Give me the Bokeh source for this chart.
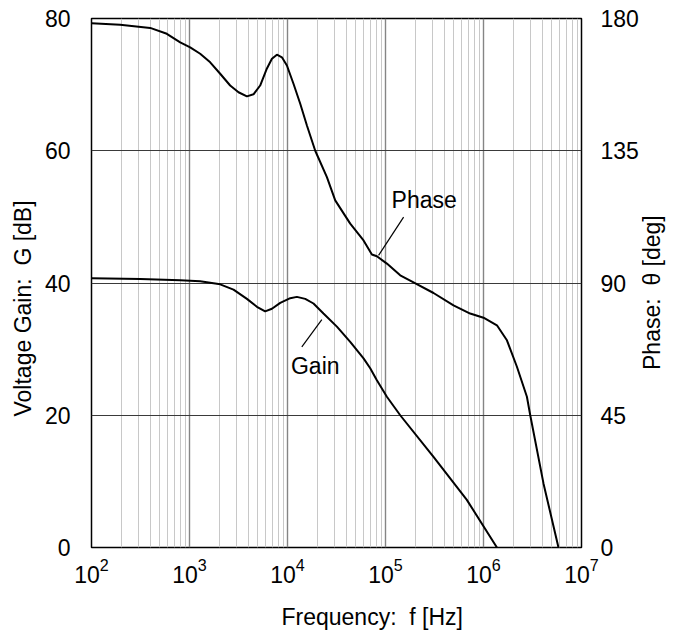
import math
from bokeh.plotting import figure
from bokeh.layouts import row
from bokeh.models import Range1d, LinearAxis, FixedTicker, Title
from bokeh.embed import file_html
from bokeh.resources import INLINE
from bokeh.core.properties import value

# ---- data ----
gain_freq = [100, 316, 804, 1285, 2056, 2812, 3855, 4875, 5916, 6934, 8433,
             10670, 12470, 15170, 18410, 23280, 31920, 43650, 59700, 69820,
             81660, 103300, 141300, 309000, 676100, 1371000]
gain_db = [40.7, 40.6, 40.41, 40.26, 39.8, 39.0, 37.6, 36.4, 35.7, 36.1, 37.0,
           37.7, 37.9, 37.6, 36.9, 35.4, 33.4, 31.1, 28.6, 27.1,
           25.3, 22.8, 20.0, 13.7, 7.2, 0.0]

phase_freq = [100, 196, 397, 587, 804, 1016, 1285, 1626, 2056, 2600, 3162,
              3855, 4498, 5260, 6166, 6934, 7798, 8770, 9863, 11510, 13490,
              15780, 19190, 25240, 30690, 43650, 59700, 72610, 81660, 103300,
              141300, 193200, 309000, 494300, 731100, 1000000, 1371000,
              1734000, 2193000, 2773000, 2999000, 4093000, 5821000]
phase_deg = [178.4, 177.9, 176.8, 174.8, 171.9, 170.2, 168.0, 165.1, 161.2,
             157.2, 154.9, 153.5, 154.2, 157.2, 163.0, 166.3, 167.7, 166.8,
             164.0, 157.8, 151.0, 143.6, 135.0, 126.0, 118.1, 110.2, 104.5,
             99.7, 99.1, 96.6, 92.6, 90.2, 86.6, 82.4, 79.6, 78.2, 75.6, 70.5,
             61.5, 51.3, 45.0, 21.8, 0.0]

x_major = [1e2, 1e3, 1e4, 1e5, 1e6, 1e7]
gain_ticks = [0, 20, 40, 60, 80]
phase_ticks = [0, 45, 90, 135, 180]

FONT = "Liberation Sans"
FS = "23px"

fig = figure(frame_width=490, frame_height=529, x_axis_type="log",
             x_range=Range1d(1e2, 1e7), y_range=Range1d(0, 80),
             output_backend="svg", toolbar_location=None,
             min_border_left=91, min_border_right=60,
             min_border_top=18, min_border_bottom=83)
fig.extra_y_ranges = {"phase": Range1d(0, 180)}

minor = [m * 10 ** e for e in range(2, 7) for m in range(2, 10)]
fig.xaxis.ticker = FixedTicker(ticks=x_major, minor_ticks=minor)
fig.xgrid.ticker = FixedTicker(ticks=x_major, minor_ticks=minor)
fig.yaxis.ticker = FixedTicker(ticks=gain_ticks)
fig.ygrid.ticker = FixedTicker(ticks=gain_ticks)

fig.xgrid.grid_line_color = "#858585"
fig.xgrid.grid_line_width = 1.4
fig.xgrid.minor_grid_line_color = "#c8c8c8"
fig.xgrid.minor_grid_line_width = 1
fig.ygrid.grid_line_color = "#3a3a3a"
fig.ygrid.grid_line_width = 1.2

fig.outline_line_color = "black"
fig.outline_line_width = 1.5
fig.outline_line_alpha = 1
fig.background_fill_color = "white"
fig.border_fill_color = "white"

right = LinearAxis(y_range_name="phase", ticker=FixedTicker(ticks=phase_ticks))
fig.add_layout(right, "right")

for ax in [fig.xaxis[0], fig.yaxis[0], right]:
    ax.axis_line_color = None
    ax.major_tick_line_color = None
    ax.minor_tick_line_color = None
    ax.major_label_text_font = FONT
    ax.major_label_text_font_size = FS
    ax.major_label_text_color = "black"
    ax.major_tick_out = 0
    ax.major_tick_in = 0
    ax.minor_tick_out = 0
    ax.minor_tick_in = 0

fig.xaxis.major_label_standoff = 10
fig.yaxis[0].major_label_standoff = 21
right.major_label_standoff = 19

fig.line(gain_freq, gain_db, line_color="black", line_width=2)
fig.line(phase_freq, phase_deg, line_color="black", line_width=2,
         y_range_name="phase")

# annotations on the curves
fig.text(x=[2.48e5], y=[52.5], text=["Phase"], text_font=value(FONT),
         text_font_size=FS, text_align="center", text_baseline="middle",
         text_color="black")
fig.segment(x0=[1.53e5], y0=[49.97], x1=[8.5e4], y1=[44.18],
            line_color="black", line_width=1.2)
fig.text(x=[1.92e4], y=[27.4], text=["Gain"], text_font=value(FONT),
         text_font_size=FS, text_align="center", text_baseline="middle",
         text_color="black")
fig.segment(x0=[2.24e4], y0=[34.47], x1=[1.40e4], y1=[30.33],
            line_color="black", line_width=1.2)

# axis titles
def side_title(text, offset, standoff):
    return Title(text=text, align="left", offset=offset, standoff=standoff,
                 text_font=FONT, text_font_size=FS, text_font_style="normal",
                 text_color="black")

fig.add_layout(side_title("Frequency:\u00a0 f [Hz]", 190, 32), "below")
fig.add_layout(side_title("Voltage Gain:\u00a0 G [dB]", 131, 12), "left")

# narrow strip to the right carrying the phase-axis title (reads upward)
strip = figure(width=37, height=630, x_range=Range1d(0, 37),
               y_range=Range1d(0, 630), output_backend="svg",
               toolbar_location=None, x_axis_location=None,
               y_axis_location=None, min_border=0)
strip.grid.visible = False
strip.outline_line_color = None
strip.background_fill_color = "white"
strip.border_fill_color = "white"
strip.text(x=[10], y=[294], text=["Phase:\u00a0 \u03b8 [deg]"],
           angle=math.pi / 2, text_font=value(FONT), text_font_size=FS,
           text_align="center", text_baseline="middle", text_color="black")

p = row(fig, strip)

open("out.html", "w").write(file_html(p, INLINE))
